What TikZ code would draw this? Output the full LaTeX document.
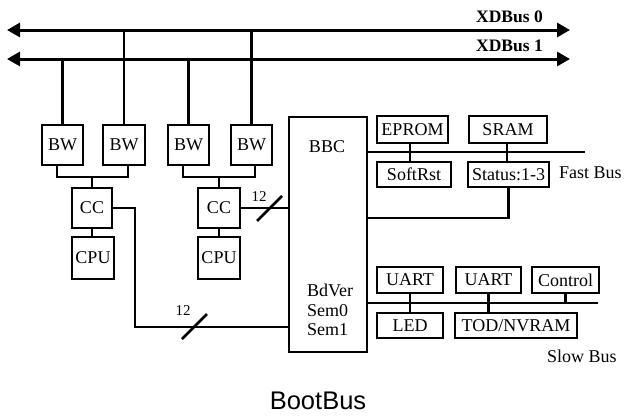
\documentclass[tikz,border=0pt]{standalone}
\usepackage{fontspec}
\setmainfont{Liberation Serif}
\newfontfamily\arialfont{Liberation Sans}
\usetikzlibrary{arrows.meta,calc}
\begin{document}
\begin{tikzpicture}[x=1pt,y=-1pt,
  txt/.style={font=\fontsize{18}{19.5}\selectfont, inner sep=0pt},
  box/.style={draw, line width=2.8pt, inner sep=0pt, font=\fontsize{18}{19.5}\selectfont},
  wire/.style={line width=2.8pt},
  bus/.style={line width=3pt, {Triangle[length=13pt,width=14pt]}-{Triangle[length=13pt,width=14pt]}},
  small/.style={font=\fontsize{15}{17}\selectfont, inner sep=0pt}]
\useasboundingbox (0,0) rectangle (626,415);
% buses
\coordinate (x0L) at (7,30);  \coordinate (x0R) at (570,30);
\coordinate (x1L) at (7,59);  \coordinate (x1R) at (570,59);
\draw[bus] (x0L) -- (x0R);
\draw[bus] (x1L) -- (x1R);
\node[txt, anchor=east, font=\fontsize{17.5}{19.5}\selectfont\bfseries] (lx0) at (543,17) {XDBus 0};
\node[txt, anchor=east, font=\fontsize{17.5}{19.5}\selectfont\bfseries] (lx1) at (543,46) {XDBus 1};
% BW boxes
\node[box, minimum width=41pt, minimum height=40pt] (BW1) at (62.5,145) {BW};
\node[box, minimum width=42pt, minimum height=40pt] (BW2) at (124,145) {BW};
\node[box, minimum width=41pt, minimum height=40pt] (BW3) at (188.5,145) {BW};
\node[box, minimum width=41pt, minimum height=40pt] (BW4) at (251.5,145) {BW};
\draw[wire] (BW1.north) -- (BW1.north |- x1L);
\draw[wire] (BW2.north) -- (BW2.north |- x0L);
\draw[wire] (BW3.north) -- (BW3.north |- x1L);
\draw[wire] (BW4.north) -- (BW4.north |- x0L);
% CC and CPU
\node[box, minimum width=40pt, minimum height=40pt] (CC1) at (92,208) {CC};
\node[box, minimum width=42pt, minimum height=42pt] (CPU1) at (93,258) {CPU};
\node[box, minimum width=42pt, minimum height=40pt] (CC2) at (219,208) {CC};
\node[box, minimum width=42pt, minimum height=42pt] (CPU2) at (219,258) {CPU};
\coordinate (j1) at (92,177);
\coordinate (j2) at (219,177);
\draw[wire] ([xshift=-5.5pt]BW1.south) |- (j1) -| ([xshift=4pt]BW2.south);
\draw[wire] (j1) -- (CC1.north);
\draw[wire] ([xshift=-5.5pt]BW3.south) |- (j2) -| ([xshift=3.5pt]BW4.south);
\draw[wire] (j2) -- (CC2.north);
\draw[wire] (CC1.south) -- (CC1.south |- CPU1.north);
\draw[wire] (CC2.south) -- (CPU2.north);
% BBC
\node[box, minimum width=78pt, minimum height=235pt] (BBC) at (328,234.5) {};
\node[txt] (bbcl) at (327,147) {BBC};
\node[txt, anchor=west, align=left] (sem) at (307,310) {BdVer\\Sem0\\Sem1};
% CC to BBC
\draw[wire] (CC2.east) -- (CC2.east -| BBC.west);
\draw[wire] (CC1.east) -- (135,208) -- (135,327) -- (BBC.west |- 0,327);
\coordinate (s1a) at (257,221); \coordinate (s1b) at (282,196);
\coordinate (s2a) at (182,339); \coordinate (s2b) at (207,314);
\draw[wire] (s1a) -- (s1b);
\draw[wire] (s2a) -- (s2b);
\node[small] (n12a) at (259,197) {12};
\node[small] (n12b) at (183,311) {12};
% Fast bus
\coordinate (fbL) at (367,152); \coordinate (fbR) at (585,152);
\draw[wire] (BBC.east |- fbL) -- (fbR);
\node[box, minimum width=71pt, minimum height=27pt] (EPROM) at (412.5,129.5) {EPROM};
\node[box, minimum width=78pt, minimum height=27pt] (SRAM) at (508,129.5) {SRAM};
\node[box, minimum width=74pt, minimum height=25pt] (SoftRst) at (414,174.5) {SoftRst};
\node[box, minimum width=81pt, minimum height=25pt] (Status) at (508.5,174.5) {Status:1-3};
\draw[wire] (EPROM.south -| 410,0) -- (SoftRst.north -| 410,0);
\draw[wire] (SRAM.south -| 507,0) -- (Status.north -| 507,0);
\coordinate (fb2) at (367,218);
\draw[wire] (BBC.east |- fb2) -| (Status.south);
\node[txt, anchor=west] (fast) at (559,173) {Fast Bus};
% Slow bus
\coordinate (sbR) at (598,303);
\draw[wire] (BBC.east |- sbR) -- (sbR);
\node[box, minimum width=66pt, minimum height=26pt] (UART1) at (410,280) {UART};
\node[box, minimum width=65pt, minimum height=26pt] (UART2) at (488.5,280) {UART};
\node[box, minimum width=67pt, minimum height=26pt] (Control) at (565.5,280) {Control};
\node[box, minimum width=66pt, minimum height=25pt] (LED) at (410,325.5) {LED};
\node[box, minimum width=122pt, minimum height=25pt] (TOD) at (516,325.5) {TOD/NVRAM};
\draw[wire] (UART1.south) -- (LED.north);
\draw[wire] (UART2.south) -- (UART2.south |- TOD.north);
\draw[wire] (Control.south) -- (Control.south |- sbR);
\node[txt, anchor=west] (slow) at (547,356) {Slow Bus};
\node[inner sep=0pt, font=\arialfont\fontsize{25.5}{28}\selectfont] (boot) at (318,401) {BootBus};
\end{tikzpicture}
\end{document}
